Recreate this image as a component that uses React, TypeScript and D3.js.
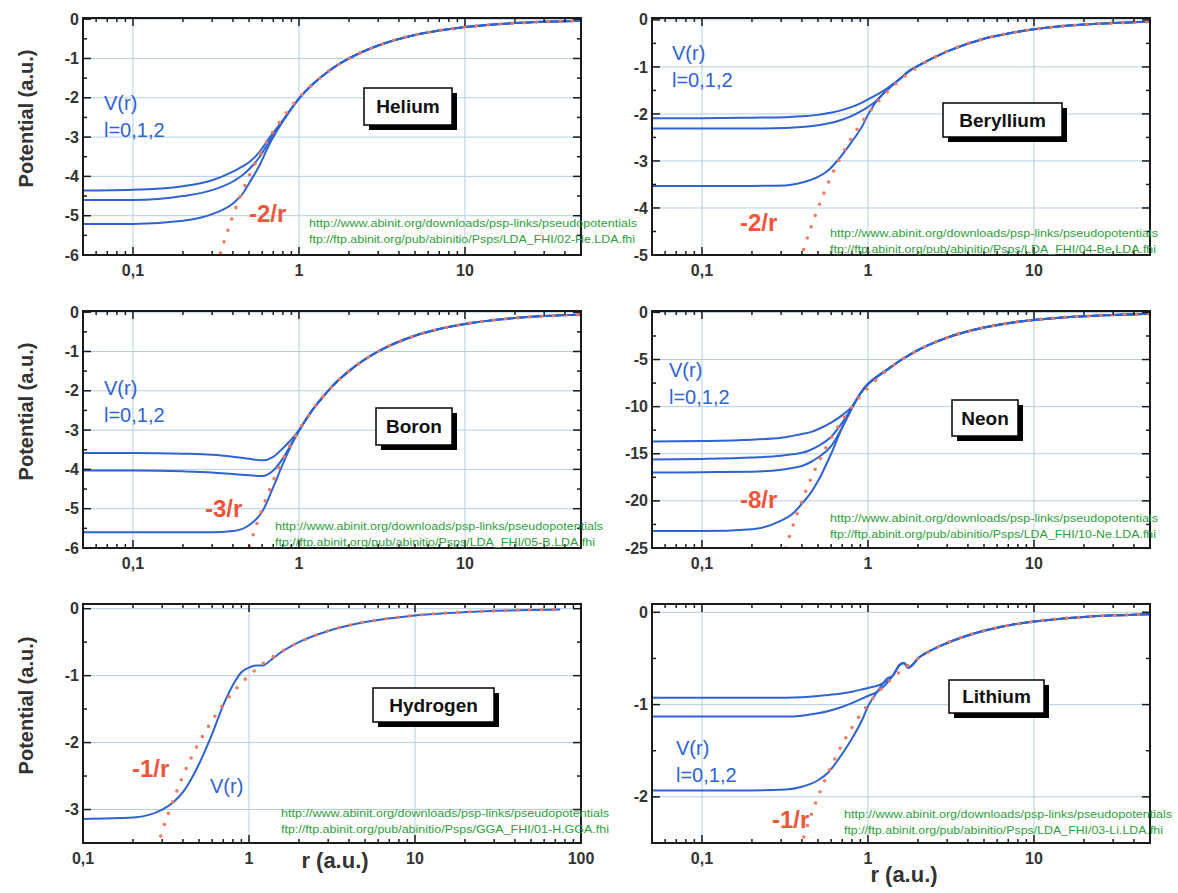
import React from "react";
import * as d3 from "d3";

// ---------- Helium (Z=2) ----------
const heCoreR = [0.05, 0.1, 0.2, 0.3, 0.4, 0.46, 0.5, 0.58, 0.66, 0.8, 1];
const heL0 = [-4.36, -4.34, -4.25, -4.1, -3.88, -3.74, -3.64, -3.37, -3.03, -2.57, -2.02];
const heL1 = [-4.6, -4.6, -4.5, -4.35, -4.13, -3.96, -3.82, -3.5, -3.12, -2.58, -2.02];
const heL2 = [-5.21, -5.21, -5.13, -4.96, -4.69, -4.43, -4.18, -3.71, -3.2, -2.6, -2.02];
const heTailR = [1.2, 1.5, 2, 3, 5, 7, 10, 20, 30, 50];
const heTailV = [-1.67, -1.33, -1.0, -0.67, -0.4, -0.29, -0.2, -0.1, -0.067, -0.04];
const heDotR = [0.32, 0.36, 0.4, 0.45, 0.5, 0.6, 0.7, 0.8, 1, 1.2, 1.5, 2, 3, 5, 7, 10, 20, 30, 50];
const heDotV = [-6.25, -5.56, -5.0, -4.44, -4.0, -3.33, -2.86, -2.5, -2.0, -1.67, -1.33, -1.0, -0.67, -0.4, -0.29, -0.2, -0.1, -0.067, -0.04];

// ---------- Beryllium (Z=2) ----------
const beCoreR = [0.05, 0.1, 0.2, 0.32, 0.4, 0.5, 0.58, 0.66, 0.8, 0.92, 1, 1.16, 1.3];
const beL0 = [-2.09, -2.09, -2.08, -2.07, -2.05, -2.02, -1.98, -1.94, -1.85, -1.76, -1.69, -1.57, -1.46];
const beL1 = [-2.31, -2.31, -2.31, -2.3, -2.28, -2.24, -2.2, -2.15, -2.04, -1.93, -1.85, -1.68, -1.48];
const beL2 = [-3.53, -3.53, -3.53, -3.52, -3.46, -3.34, -3.19, -2.98, -2.59, -2.27, -2.02, -1.67, -1.5];
const beTailR = [1.6, 1.75, 2, 3, 5, 7, 10, 20, 30, 50];
const beTailV = [-1.22, -1.1, -0.98, -0.67, -0.4, -0.29, -0.2, -0.1, -0.067, -0.04];
const beDotR = [0.39, 0.42, 0.46, 0.5, 0.55, 0.6, 0.7, 0.8, 1, 1.2, 1.5, 2, 3, 5, 7, 10, 20, 30, 50];
const beDotV = [-5.13, -4.76, -4.35, -4.0, -3.64, -3.33, -2.86, -2.5, -2.0, -1.67, -1.33, -1.0, -0.67, -0.4, -0.29, -0.2, -0.1, -0.067, -0.04];

// ---------- Boron (Z=3) ----------
const bCoreR = [0.05, 0.1, 0.2, 0.3, 0.4, 0.5, 0.6, 0.7, 0.8, 0.9, 1];
const bL0 = [-3.58, -3.58, -3.6, -3.63, -3.68, -3.73, -3.77, -3.68, -3.46, -3.24, -3.0];
const bL1 = [-4.03, -4.03, -4.05, -4.08, -4.12, -4.15, -4.17, -4.03, -3.72, -3.35, -3.02];
const bL2 = [-5.6, -5.6, -5.6, -5.6, -5.57, -5.42, -5.08, -4.45, -3.86, -3.38, -3.02];
const bTailR = [1.2, 1.4, 1.6, 2, 3, 5, 7, 10, 20, 30, 50];
const bTailV = [-2.5, -2.15, -1.87, -1.5, -1.0, -0.6, -0.43, -0.3, -0.15, -0.1, -0.06];
const bDotR = [0.48, 0.52, 0.56, 0.6, 0.66, 0.72, 0.8, 0.9, 1, 1.2, 1.5, 2, 3, 5, 7, 10, 20, 30, 50];
const bDotV = [-6.25, -5.77, -5.36, -5.0, -4.55, -4.17, -3.75, -3.33, -3.0, -2.5, -2.0, -1.5, -1.0, -0.6, -0.43, -0.3, -0.15, -0.1, -0.06];

// ---------- Neon (Z=8) ----------
const neCoreR = [0.05, 0.1, 0.2, 0.3, 0.35, 0.4, 0.45, 0.5, 0.6, 0.7, 0.8];
const neL0 = [-13.7, -13.65, -13.5, -13.3, -13.1, -12.9, -12.7, -12.4, -11.7, -10.9, -10.0];
const neL1 = [-15.6, -15.55, -15.4, -15.2, -15.05, -14.9, -14.6, -14.2, -13.2, -11.7, -10.1];
const neL2 = [-17.0, -16.95, -16.9, -16.7, -16.5, -16.3, -15.9, -15.4, -14.2, -12.2, -10.2];
const neL3 = [-23.2, -23.2, -23.0, -22.1, -21.4, -20.3, -19.2, -17.9, -15.0, -12.2, -10.1];
const neTailR = [0.9, 1.0, 1.1, 1.3, 1.6, 2, 3, 5, 7, 10, 20, 30, 50];
const neTailV = [-8.6, -7.6, -7.0, -6.1, -5.0, -4.0, -2.67, -1.6, -1.14, -0.8, -0.4, -0.27, -0.16];
const neDotR = [0.32, 0.34, 0.37, 0.4, 0.44, 0.48, 0.53, 0.58, 0.65, 0.72, 0.8, 0.9, 1, 1.2, 1.5, 2, 3, 5, 7, 10, 20, 30, 50];
const neDotV = [-25, -23.53, -21.62, -20, -18.18, -16.67, -15.09, -13.79, -12.31, -11.11, -10, -8.89, -8, -6.67, -5.33, -4, -2.67, -1.6, -1.14, -0.8, -0.4, -0.27, -0.16];

// ---------- Hydrogen (Z=1) ----------
const hR = [0.1, 0.2, 0.25, 0.3, 0.35, 0.4, 0.45, 0.5, 0.6, 0.7, 0.8, 0.9, 1.0, 1.1, 1.2, 1.35, 1.5, 2, 3, 5, 10, 20, 50, 75];
const hV = [-3.14, -3.12, -3.08, -3.0, -2.89, -2.74, -2.54, -2.32, -1.87, -1.44, -1.14, -0.95, -0.88, -0.85, -0.85, -0.77, -0.68, -0.5, -0.333, -0.2, -0.1, -0.05, -0.02, -0.013];
const hDotR = [0.28, 0.3, 0.33, 0.36, 0.4, 0.45, 0.5, 0.56, 0.63, 0.7, 0.8, 0.9, 1, 1.2, 1.5, 2, 3, 5, 10, 20, 50, 75];
const hDotV = [-3.57, -3.33, -3.03, -2.78, -2.5, -2.22, -2.0, -1.79, -1.59, -1.43, -1.25, -1.11, -1.0, -0.83, -0.67, -0.5, -0.33, -0.2, -0.1, -0.05, -0.02, -0.013];

// ---------- Lithium (Z=1) ----------
const liCoreR = [0.05, 0.1, 0.2, 0.32, 0.4, 0.5, 0.58, 0.66, 0.8, 0.92, 1, 1.16, 1.3, 1.42];
const liL0 = [-0.925, -0.925, -0.925, -0.925, -0.92, -0.907, -0.895, -0.885, -0.86, -0.835, -0.82, -0.79, -0.745, -0.68];
const liL1 = [-1.13, -1.13, -1.13, -1.13, -1.12, -1.095, -1.07, -1.04, -0.985, -0.935, -0.907, -0.85, -0.77, -0.68];
const liL2 = [-1.93, -1.93, -1.93, -1.92, -1.89, -1.82, -1.73, -1.6, -1.37, -1.17, -1.02, -0.84, -0.72, -0.68];
const liTailR = [1.55, 1.65, 1.75, 1.85, 2.0, 2.3, 3, 5, 7, 10, 20, 30, 50];
const liTailV = [-0.57, -0.55, -0.6, -0.57, -0.5, -0.43, -0.333, -0.2, -0.143, -0.1, -0.05, -0.033, -0.02];
const liDotR = [0.39, 0.42, 0.46, 0.5, 0.55, 0.6, 0.66, 0.73, 0.8, 0.9, 1, 1.2, 1.5, 2, 3, 5, 10, 20, 50];
const liDotV = [-2.56, -2.38, -2.17, -2.0, -1.82, -1.67, -1.52, -1.37, -1.25, -1.11, -1.0, -0.83, -0.67, -0.5, -0.33, -0.2, -0.1, -0.05, -0.02];

// tick labels / texts
const yTicksHe = [0, -1, -2, -3, -4, -5, -6];
const yTicksBe = [0, -1, -2, -3, -4, -5];
const yTicksNe = [0, -5, -10, -15, -20, -25];
const yTicksH = [0, -1, -2, -3];
const yTicksLi = [0, -1, -2];
const xTicksMain = [0.1, 1, 10];
const xTicksH = [0.1, 1, 10, 100];
const urlLine1 = "http://www.abinit.org/downloads/psp-links/pseudopotentials";
const ftpBase = "ftp://ftp.abinit.org/pub/abinitio/Psps/";

const BLUE = "#2f63d2";
const RED = "#f27a5e";
const GRID = "#b4cfe2";
const GREEN = "#2f9d3c";
const AXIS = "#1a1a1a";
const FONT = "Arial, 'Liberation Sans', sans-serif";

type Pt = [number, number];
const zip = (r: number[], v: number[]): Pt[] => r.map((ri, i) => [ri, v[i]] as Pt);
const withTail = (core: number[], tailR: number[], tailV: number[]) => (v: number[]) =>
  zip([...core, ...tailR], [...v, ...tailV]);

type Spec = {
  id: string;
  name: string;
  x: number; y: number; w: number; h: number;
  xDomain: [number, number]; yDomain: [number, number];
  xTicks: number[]; yTicks: number[]; yMinorStep: number;
  curves: Pt[][]; dots: Pt[];
  box: [number, number, number, number];
  vLabel: [number, number, boolean];
  zLabel: [string, number, number];
  url: [number, number, string, number];
};

const panels: Spec[] = [
  {
    id: "he", name: "Helium", x: 83, y: 18, w: 498, h: 237,
    xDomain: [0.05, 50], yDomain: [-6, 0.03], xTicks: xTicksMain, yTicks: yTicksHe, yMinorStep: 0.5,
    curves: [heL0, heL1, heL2].map(withTail(heCoreR, heTailR, heTailV)),
    dots: zip(heDotR, heDotV),
    box: [364, 88, 88, 37], vLabel: [104, 110, true], zLabel: ["-2/r", 249, 222],
    url: [309, 227, "LDA_FHI/02-He.LDA.fhi", 326],
  },
  {
    id: "be", name: "Beryllium", x: 652, y: 18, w: 498, h: 237,
    xDomain: [0.05, 50], yDomain: [-5, 0.04], xTicks: xTicksMain, yTicks: yTicksBe, yMinorStep: 0.5,
    curves: [beL0, beL1, beL2].map(withTail(beCoreR, beTailR, beTailV)),
    dots: zip(beDotR, beDotV),
    box: [943, 103, 119, 34], vLabel: [672, 60, true], zLabel: ["-2/r", 740, 231],
    url: [830, 237, "LDA_FHI/04-Be.LDA.fhi", 326],
  },
  {
    id: "b", name: "Boron", x: 83, y: 311, w: 498, h: 237,
    xDomain: [0.05, 50], yDomain: [-6, 0.03], xTicks: xTicksMain, yTicks: yTicksHe, yMinorStep: 0.5,
    curves: [bL0, bL1, bL2].map(withTail(bCoreR, bTailR, bTailV)),
    dots: zip(bDotR, bDotV),
    box: [376, 408, 76, 37], vLabel: [104, 395, true], zLabel: ["-3/r", 205, 517],
    url: [275, 530, "LDA_FHI/05-B.LDA.fhi", 320],
  },
  {
    id: "ne", name: "Neon", x: 652, y: 311, w: 498, h: 237,
    xDomain: [0.05, 50], yDomain: [-25, 0.15], xTicks: xTicksMain, yTicks: yTicksNe, yMinorStep: 2.5,
    curves: [neL0, neL1, neL2, neL3].map(withTail(neCoreR, neTailR, neTailV)),
    dots: zip(neDotR, neDotV),
    box: [952, 400, 66, 36], vLabel: [669, 377, true], zLabel: ["-8/r", 740, 508],
    url: [830, 522, "LDA_FHI/10-Ne.LDA.fhi", 326],
  },
  {
    id: "h", name: "Hydrogen", x: 83, y: 604, w: 498, h: 239,
    xDomain: [0.1, 100], yDomain: [-3.5, 0.07], xTicks: xTicksH, yTicks: yTicksH, yMinorStep: 0.5,
    curves: [zip(hR, hV)],
    dots: zip(hDotR, hDotV),
    box: [373, 688, 121, 34], vLabel: [210, 793, false], zLabel: ["-1/r", 132, 777],
    url: [281, 817, "GGA_FHI/01-H.GGA.fhi", 328],
  },
  {
    id: "li", name: "Lithium", x: 652, y: 604, w: 498, h: 239,
    xDomain: [0.05, 50], yDomain: [-2.5, 0.09], xTicks: xTicksMain, yTicks: yTicksLi, yMinorStep: 0.5,
    curves: [liL0, liL1, liL2].map(withTail(liCoreR, liTailR, liTailV)),
    dots: zip(liDotR, liDotV),
    box: [949, 680, 95, 33], vLabel: [676, 755, true], zLabel: ["-1/r", 772, 828],
    url: [844, 818, "LDA_FHI/03-Li.LDA.fhi", 319],
  },
];

const fmtX = (v: number) => (v < 1 ? String(v).replace(".", ",") : String(v));

function Panel({ p }: { p: Spec }) {
  const x = d3.scaleLog().domain(p.xDomain).range([p.x, p.x + p.w]);
  const y = d3.scaleLinear().domain(p.yDomain).range([p.y + p.h, p.y]);
  const line = d3
    .line<Pt>()
    .x((d) => x(d[0]))
    .y((d) => y(d[1]))
    .curve(d3.curveMonotoneX);

  const xAll = x.ticks();
  const isMajor = (v: number) => Math.abs(Math.log10(v) - Math.round(Math.log10(v))) < 1e-6;
  const yMinor = d3
    .range(0, p.yDomain[0] - 1e-6, -p.yMinorStep)
    .filter((v) => !p.yTicks.includes(+v.toFixed(3)));
  const left = p.x, right = p.x + p.w, top = p.y, bottom = p.y + p.h;
  const clip = `clip-${p.id}`;
  const [bx, by, bw, bh] = p.box;
  const [vx, vy, two] = p.vLabel;
  const [zt, zx, zy] = p.zLabel;
  const [ux, uy, ftpTail, l2] = p.url;

  return (
    <g>
      <defs>
        <clipPath id={clip}>
          <rect x={left} y={top} width={p.w} height={p.h} />
        </clipPath>
      </defs>
      {/* grid */}
      {p.xTicks.map((t) => (
        <line key={"gx" + t} x1={x(t)} x2={x(t)} y1={top} y2={bottom} stroke={GRID} strokeWidth={1} />
      ))}
      {p.yTicks.map((t) => (
        <line key={"gy" + t} x1={left} x2={right} y1={y(t)} y2={y(t)} stroke={GRID} strokeWidth={1} />
      ))}
      {/* curves */}
      <g clipPath={`url(#${clip})`}>
        {p.curves.map((c, i) => (
          <path key={i} d={line(c) ?? ""} fill="none" stroke={BLUE} strokeWidth={2} />
        ))}
        <path
          d={line(p.dots) ?? ""}
          fill="none"
          stroke={RED}
          strokeWidth={3.6}
          strokeLinecap="round"
          strokeDasharray="0 12"
        />
      </g>
      {/* frame */}
      <rect x={left} y={top} width={p.w} height={p.h} fill="none" stroke={AXIS} strokeWidth={2} />
      {/* x ticks top & bottom */}
      {xAll.map((t, i) => {
        const len = isMajor(t) ? 8 : 4;
        const xx = x(t);
        return (
          <g key={"tx" + i}>
            <line x1={xx} x2={xx} y1={bottom} y2={bottom - len} stroke={AXIS} strokeWidth={1.5} />
            <line x1={xx} x2={xx} y1={top} y2={top + len} stroke={AXIS} strokeWidth={1.5} />
          </g>
        );
      })}
      {/* y ticks left & right */}
      {p.yTicks.map((t) => (
        <g key={"ty" + t}>
          <line x1={left} x2={left + 8} y1={y(t)} y2={y(t)} stroke={AXIS} strokeWidth={1.5} />
          <line x1={right} x2={right - 8} y1={y(t)} y2={y(t)} stroke={AXIS} strokeWidth={1.5} />
        </g>
      ))}
      {yMinor.map((t, i) => (
        <g key={"tym" + i}>
          <line x1={left} x2={left + 4} y1={y(t)} y2={y(t)} stroke={AXIS} strokeWidth={1.5} />
          <line x1={right} x2={right - 4} y1={y(t)} y2={y(t)} stroke={AXIS} strokeWidth={1.5} />
        </g>
      ))}
      {/* tick labels */}
      {p.xTicks.map((t) => (
        <text
          key={"lx" + t}
          x={x(t)}
          y={bottom + 21}
          textAnchor="middle"
          fontFamily={FONT}
          fontWeight="bold"
          fontSize={16}
          fill="#333"
        >
          {fmtX(t)}
        </text>
      ))}
      {p.yTicks.map((t) => (
        <text
          key={"ly" + t}
          x={left - 4}
          y={y(t)}
          dy="0.35em"
          textAnchor="end"
          fontFamily={FONT}
          fontWeight="bold"
          fontSize={16}
          fill="#333"
        >
          {String(t)}
        </text>
      ))}
      {/* element box */}
      <rect x={bx + 5} y={by + 5} width={bw} height={bh} fill="#000" />
      <rect x={bx} y={by} width={bw} height={bh} fill="#fff" stroke="#000" strokeWidth={1.5} />
      <text
        x={bx + bw / 2}
        y={by + bh / 2}
        dy="0.36em"
        textAnchor="middle"
        fontFamily={FONT}
        fontWeight="bold"
        fontSize={19}
        fill="#111"
      >
        {p.name}
      </text>
      {/* V(r) label */}
      <text x={vx} y={vy} fontFamily={FONT} fontSize={20} fill={BLUE}>
        V(r)
      </text>
      {two && (
        <text x={vx} y={vy + 27} fontFamily={FONT} fontSize={20} fill={BLUE}>
          l=0,1,2
        </text>
      )}
      {/* -Z/r label */}
      <text x={zx} y={zy} fontFamily={FONT} fontWeight="bold" fontSize={24} fill="#f0553a">
        {zt}
      </text>
      {/* urls */}
      <text
        x={ux}
        y={uy}
        fontFamily={FONT}
        fontSize={11.5}
        fill={GREEN}
        textLength={328}
        lengthAdjust="spacingAndGlyphs"
      >
        {urlLine1}
      </text>
      <text
        x={ux}
        y={uy + 16}
        fontFamily={FONT}
        fontSize={11.5}
        fill={GREEN}
        textLength={l2}
        lengthAdjust="spacingAndGlyphs"
      >
        {ftpBase + ftpTail}
      </text>
    </g>
  );
}

export default function App() {
  const leftPanels = panels.filter((p) => p.x < 300);
  return (
    <svg
      width={1178}
      height={893}
      viewBox="0 0 1178 893"
      style={{ position: "absolute", left: 0, top: 0, background: "#fff" }}
    >
      <rect width={1178} height={893} fill="#fff" />
      {panels.map((p) => (
        <Panel key={p.id} p={p} />
      ))}
      {leftPanels.map((p) => {
        const cy = p.y + p.h / 2 - 18;
        return (
          <text
            key={"yt" + p.id}
            transform={`translate(33,${cy}) rotate(-90)`}
            textAnchor="middle"
            fontFamily={FONT}
            fontWeight="bold"
            fontSize={20}
            fill="#333"
          >
            Potential (a.u.)
          </text>
        );
      })}
      <text x={335} y={868} textAnchor="middle" fontFamily={FONT} fontWeight="bold" fontSize={22} fill="#333">
        r (a.u.)
      </text>
      <text x={904} y={882} textAnchor="middle" fontFamily={FONT} fontWeight="bold" fontSize={22} fill="#333">
        r (a.u.)
      </text>
    </svg>
  );
}
